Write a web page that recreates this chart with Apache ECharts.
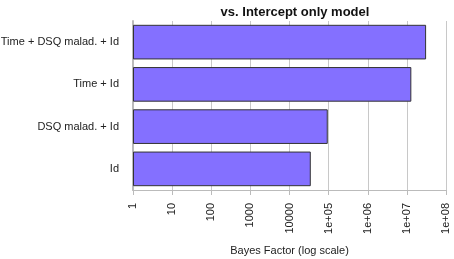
<!DOCTYPE html>
<html>
<head>
<meta charset="utf-8">
<script src="https://cdn.jsdelivr.net/npm/echarts@6/dist/echarts.min.js"></script>
<style>
  html, body { margin: 0; padding: 0; background: #fff; }
  #chart { width: 454px; height: 259px; }
</style>
</head>
<body>
<div id="chart"></div>
<script>
// models, top to bottom in the picture
const models = ['Time + DSQ malad. + Id', 'Time + Id', 'DSQ malad. + Id', 'Id']
const bayesFactors = [3.1e7, 1.3e7, 9.5e4, 3.5e4]
const tickLabels = ['1', '10', '100', '1000', '10000', '1e+05', '1e+06', '1e+07', '1e+08']

const textStyle = {
  fontFamily: 'Liberation Sans',
  fontWeight: 'normal',
  color: '#222'
}

const chart = echarts.init(document.getElementById('chart'))
chart.setOption({
  animation: false,
  title: {
    text: 'vs. Intercept only model',
    left: 290,
    top: 1,
    textAlign: 'center',
    textStyle: { fontFamily: 'Liberation Sans', fontWeight: 'bold', fontSize: 13, color: '#111' }
  },
  grid: {
    left: 133,
    right: 8,
    top: 21,
    bottom: 69,
    outerBoundsMode: 'none'
  },
  xAxis: {
    type: 'log',
    logBase: 10,
    min: 1,
    max: 1e8,
    name: 'Bayes Factor (log scale)',
    nameLocation: 'middle',
    nameGap: 55,
    nameTextStyle: Object.assign({}, textStyle, { fontSize: 11 }),
    axisLine: { show: true, lineStyle: { color: '#bbb' } },
    axisTick: { show: true, length: 5, lineStyle: { color: '#bbb' } },
    axisLabel: Object.assign({}, textStyle, {
      fontSize: 11,
      rotate: 90,
      margin: 13,
      formatter: v => tickLabels[Math.round(Math.log10(v))]
    }),
    splitLine: { show: true, lineStyle: { color: '#c8c8c8', width: 1 } }
  },
  yAxis: {
    type: 'category',
    inverse: true,
    data: models,
    axisLine: { show: true, lineStyle: { color: '#bbb', width: 2 } },
    axisTick: { show: false },
    axisLabel: Object.assign({}, textStyle, { fontSize: 11, margin: 14 })
  },
  series: [
    {
      type: 'bar',
      data: bayesFactors,
      barCategoryGap: '18%',
      itemStyle: {
        color: '#8470ff',
        borderColor: '#333',
        borderWidth: 1
      }
    }
  ]
})
</script>
</body>
</html>
